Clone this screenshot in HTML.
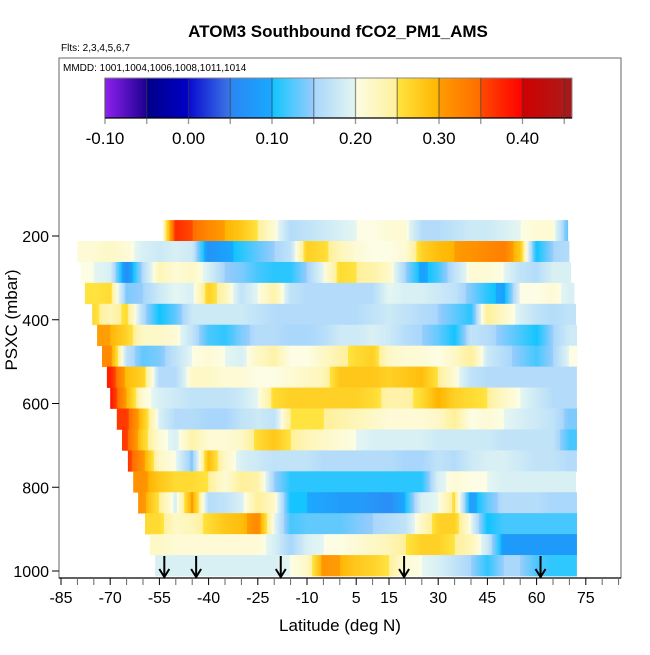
<!DOCTYPE html>
<html><head><meta charset="utf-8">
<style>
html,body{margin:0;padding:0;background:#fff;}
svg text{font-family:"Liberation Sans",Arial,sans-serif;}
</style></head>
<body>
<svg id="chart" width="650" height="650" viewBox="0 0 650 650" xmlns="http://www.w3.org/2000/svg">
<rect x="0" y="0" width="650" height="650" fill="#fff"/>
<text x="338" y="37" text-anchor="middle" font-size="17" font-weight="bold">ATOM3 Southbound fCO2_PM1_AMS</text>
<text x="61" y="51" font-size="10">Flts: 2,3,4,5,6,7</text>
<g id="heat"></g>
<g id="cbar"></g>
<rect x="59" y="58" width="562" height="520" fill="none" stroke="#666" stroke-width="1"/>
<text x="63" y="71" font-size="10">MMDD: 1001,1004,1006,1008,1011,1014</text>
<line x1="59" y1="578" x2="621" y2="578" stroke="#000" stroke-width="1.2"/>
<g id="xaxis"></g>
<g id="yaxis"></g>
<g id="arrows"></g>
<text x="340" y="631" text-anchor="middle" font-size="17">Latitude (deg N)</text>
<text transform="translate(17,320) rotate(-90)" text-anchor="middle" font-size="17">PSXC (mbar)</text>
</svg>
<script>
const latGrid = [-80,-75,-70,-65,-60,-55,-50,-45,-40,-35,-30,-25,-20,-15,-10,-5,0,5,10,15,20,25,30,35,40,45,50,55,60,65,70];
const rowPressure = [187,237,287,337,387,437,487,537,587,637,687,737,787,837,887,937,987];
const rowStartLat = [-54,-80,-79,-77.7,-75.5,-74,-72.5,-71,-70,-68,-66.4,-64.6,-63,-61.5,-59.4,-57.9,-56.3];
const rowEndLat = [69.6,70,70.5,71.5,72,72.3,72.5,72.3,72.3,72.3,72.3,72.3,72,72.3,72.3,72.3,72.3];
const N = null;
const row1 = [N,N,N,N,N,.17,.37,.35,.32,.30,.28,.25,.21,.16,.17,.18,.19,.20,.20,.21,.21,.16,.16,.17,.18,.18,.19,.20,.21,.21,.12];
const row2 = [.21,.21,.22,.21,.19,.18,.19,.18,.07,.09,.11,.13,.15,.17,.27,.26,.23,.21,.20,.20,.21,.27,.29,.30,.31,.32,.33,.28,.10,.15,.16];
const row3 = [.20,.20,.19,.06,.16,.23,.21,.22,.19,.15,.14,.12,.11,.11,.15,.20,.26,.25,.24,.22,.15,.09,.12,.17,.21,.21,.20,.17,.16,.19,.19];
const row4 = [N,.25,.26,.14,.15,.18,.20,.19,.27,.23,.17,.20,.24,.17,.16,.16,.16,.16,.16,.20,.19,.19,.18,.17,.14,.11,.09,.20,.20,.21,.19];
const row5 = [N,.26,.23,.26,.16,.10,.13,.18,.18,.18,.18,.17,.16,.16,.16,.16,.16,.16,.17,.18,.17,.16,.15,.13,.11,.25,.22,.19,.17,.16,.17];
const row6 = [N,N,.30,.27,.22,.22,.21,.17,.12,.11,.14,.16,.16,.15,.15,.16,.18,.18,.19,.18,.16,.15,.13,.10,.17,.16,.14,.12,.10,.15,.18];
const row7 = [N,N,.32,.17,.13,.14,.17,.20,.21,.20,.19,.22,.24,.20,.20,.22,.24,.26,.27,.22,.21,.21,.20,.22,.25,.18,.16,.14,.12,.15,.20];
const row8 = [N,N,.38,.29,.27,.16,.16,.22,.22,.21,.21,.20,.20,.21,.22,.23,.28,.28,.28,.27,.28,.29,.25,.21,.17,.16,.16,.16,.16,.16,.16];
const row9 = [N,N,.39,.30,.21,.19,.18,.17,.17,.17,.18,.20,.26,.27,.27,.27,.27,.27,.26,.24,.24,.26,.30,.27,.26,.25,.22,.20,.18,.16,.16];
const row10 = [N,N,N,.36,.28,.19,.16,.16,.15,.15,.17,.18,.17,.25,.25,.25,.24,.23,.22,.21,.21,.21,.22,.25,.20,.21,.20,.19,.18,.17,.14];
const row11 = [N,N,N,.36,.27,.21,.19,.24,.21,.21,.22,.26,.28,.25,.23,.22,.21,.20,.19,.19,.19,.19,.18,.18,.18,.18,.17,.17,.17,.17,.12];
const row12 = [N,N,N,.37,.31,.22,.20,.14,.29,.22,.19,.18,.17,.17,.17,.16,.16,.16,.16,.16,.15,.15,.17,.16,.18,.19,.19,.18,.17,.17,.16];
const row13 = [N,N,N,N,.31,.28,.26,.26,.25,.21,.25,.24,.15,.11,.11,.11,.11,.11,.11,.11,.11,.11,.19,.21,.20,.20,.19,.19,.19,.19,.19];
const row14 = [N,N,N,N,.31,.25,.19,.31,.16,.17,.19,.25,.22,.10,.10,.09,.08,.08,.07,.06,.10,.19,.20,.26,.08,.13,.16,.16,.16,.15,.15];
const row15 = [N,N,N,N,N,.26,.22,.23,.26,.28,.29,.32,.20,.12,.13,.13,.13,.14,.15,.16,.17,.22,.27,.27,.20,.10,.12,.12,.12,.12,.12];
const row16 = [N,N,N,N,N,.22,.21,.21,.21,.21,.21,.21,.19,.15,.19,.20,.20,.21,.22,.23,.25,.27,.27,.25,.23,.18,.08,.08,.08,.08,.08];
const row17 = [N,N,N,N,N,.19,.19,.19,.19,.19,.19,.19,.19,.20,.22,.31,.30,.28,.27,.25,.21,.20,.19,.17,.15,.11,.15,.15,.12,.11,.11];
const rowValues = [row1,row2,row3,row4,row5,row6,row7,row8,row9,row10,row11,row12,row13,row14,row15,row16,row17];
const xTicks = [-85,-80,-75,-70,-65,-60,-55,-50,-45,-40,-35,-30,-25,-20,-15,-10,-5,0,5,10,15,20,25,30,35,40,45,50,55,60,65,70,75,80,85];
const xLabels = [-85,-70,-55,-40,-25,-10,5,15,30,45,60,75];
const yTicks = [200,400,600,800,1000];
const arrowLats = [-53.5,-43.8,-18,19.6,61.2];
const cbTicks = [-0.10,-0.05,0.00,0.05,0.10,0.15,0.20,0.25,0.30,0.35,0.40,0.45];
const cbLabels = ["-0.10","0.00","0.10","0.20","0.30","0.40"];

const NS = "http://www.w3.org/2000/svg";
function xS(lat){return 61+(lat+85)*3.28;}
function yS(p){return 236+(p-200)*0.41875;}
function cbX(v){return 105+(v+0.10)*835;}
const segs=[[-0.10,'#8f20ef','#1c0090'],[-0.05,'#000088','#0000c8'],[0.00,'#0a0ad0','#3c78e6'],[0.05,'#2a86f4','#18a8ff'],[0.10,'#10c4ff','#98ccfc'],[0.15,'#a8d6fc','#e4f6f2'],[0.20,'#fcfde4','#fff09a'],[0.25,'#ffe440','#ffb400'],[0.30,'#ff9c00','#ff6c00'],[0.35,'#ff4a00','#ff0000'],[0.40,'#d00000','#b01818'],[0.45,'#a81818','#a81818']];
function hx(h){return [parseInt(h.substr(1,2),16),parseInt(h.substr(3,2),16),parseInt(h.substr(5,2),16)];}
function col(v){
  if(v<-0.1)v=-0.1;
  let i=Math.min(segs.length-1,Math.floor((v+0.1)/0.05+1e-9));
  const s=segs[i];const t=Math.max(0,Math.min(1,(v-s[0])/0.05));
  const a=hx(s[1]),b=hx(s[2]);
  return 'rgb('+a.map((c,k)=>Math.round(c+(b[k]-c)*t)).join(',')+')';
}
function mk(tag,attrs,parent){const e=document.createElementNS(NS,tag);for(const k in attrs)e.setAttribute(k,attrs[k]);parent.appendChild(e);return e;}
function valAt(vals,lat){
  const idx=[];for(let i=0;i<vals.length;i++)if(vals[i]!==null)idx.push(i);
  if(lat<=latGrid[idx[0]])return vals[idx[0]];
  if(lat>=latGrid[idx[idx.length-1]])return vals[idx[idx.length-1]];
  for(let j=0;j<idx.length-1;j++){const a=idx[j],b=idx[j+1];
    if(lat>=latGrid[a]&&lat<=latGrid[b]){const t=(lat-latGrid[a])/(latGrid[b]-latGrid[a]);return vals[a]+(vals[b]-vals[a])*t;}}
  return vals[idx[0]];
}
// heatmap
const heat=document.getElementById('heat');
rowPressure.forEach((p,r)=>{
  const g=mk('g',{},heat);
  
  
  const y0=yS(p-25),h=yS(p+25)-y0;
  const x0=xS(rowStartLat[r]),x1=xS(rowEndLat[r]);
  for(let x=x0;x<x1;x+=1){
    const w=Math.min(1.3,x1-x);
    const lat=(x+0.5-61)/3.28-85;
    const c=mk('rect',{x:x.toFixed(1),y:y0.toFixed(2),width:w.toFixed(2),height:(h+0.3).toFixed(2),fill:col(valAt(rowValues[r],lat))},g);
    
    
  }
});
// colorbar
const cb=document.getElementById('cbar');
for(let x=105;x<572;x+=1){
  const v=(x+0.5-105)/835-0.10;
  const c=mk('rect',{x:x,y:78,width:1.2,height:40,fill:col(v)},cb);
  
  
}
const cbf=mk('rect',{x:105,y:78,width:467,height:40,fill:'none',stroke:'#888','stroke-width':1},cb);


const cbb=mk('line',{x1:105,y1:118,x2:572,y2:118,stroke:'#000','stroke-width':1.2},cb);


cbTicks.forEach(v=>{
  const x=cbX(v);
  const l=mk('line',{x1:x,y1:78,x2:x,y2:124,stroke:'rgba(60,60,60,0.55)','stroke-width':1.3},cb);
  
  
});
cbLabels.forEach(s=>{
  const t=mk('text',{x:cbX(parseFloat(s)),y:144,'text-anchor':'middle','font-size':17},cb);
  t.textContent=s;
  
  
});
// x axis
const xa=document.getElementById('xaxis');
xTicks.forEach(v=>{
  const l=mk('line',{x1:xS(v),y1:578,x2:xS(v),y2:585,stroke:(xLabels.indexOf(v)>=0?'#000':'#666'),'stroke-width':1},xa);
  
  
});
xLabels.forEach(v=>{
  const t=mk('text',{x:xS(v),y:603,'text-anchor':'middle','font-size':16},xa);
  t.textContent=v;
  
  
});
// y axis
const ya=document.getElementById('yaxis');
yTicks.forEach(v=>{
  const l=mk('line',{x1:52,y1:yS(v),x2:59,y2:yS(v),stroke:'#000','stroke-width':1},ya);
  
  
  const t=mk('text',{x:49,y:yS(v)+6,'text-anchor':'end','font-size':16},ya);
  t.textContent=v;
  
  
});
// arrows
const ar=document.getElementById('arrows');
arrowLats.forEach(v=>{
  const x=xS(v);
  const g=mk('g',{stroke:'#000','stroke-width':2,fill:'none'},ar);
  
  
  mk('line',{x1:x,y1:556,x2:x,y2:577},g);
  mk('polyline',{points:(x-5)+',569 '+x+',577 '+(x+5)+',569'},g);
});
</script>
</body></html>
